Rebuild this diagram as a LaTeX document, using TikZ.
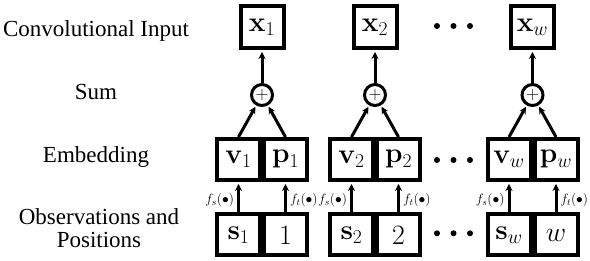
\RequirePackage{fix-cm}
\documentclass[tikz,border=0pt]{standalone}
\usepackage[no-math]{fontspec}
\setmainfont{Liberation Serif}
\usetikzlibrary{arrows.meta}
\begin{document}
\begin{tikzpicture}[x=1pt,y=1pt,
  box/.style={draw,line width=4pt,minimum width=43pt,minimum height=41pt,inner sep=0pt,font=\fontsize{28}{32}\selectfont},
  sumc/.style={draw,circle,line width=3pt,minimum size=21pt,inner sep=0pt,font=\fontsize{18}{20}\selectfont},
  arr/.style={line width=3pt,-{Stealth[length=7pt,width=7pt]}},
  lab/.style={anchor=base,font=\fontsize{23}{26}\selectfont},
  fl/.style={font=\fontsize{13.5}{16}\selectfont,inner sep=0pt}]
\useasboundingbox (0,0) rectangle (590,261);
% row labels
\node[lab] (l1) at (96,224) {Convolutional Input};
\node[lab] (l2) at (96,161) {Sum};
\node[lab] (l3) at (96,98.7) {Embedding};
\node[lab] (l4) at (99,36) {Observations and};
\node[lab] (l5) at (99,13.7) {Positions};
% columns
\foreach \c/\i/\n in {262/1/1, 375/2/2, 532.5/w/w}{
  \node[box,minimum height=42pt] (x\n) at (\c,234) {$\mathbf{x}_\i$};
  \node[sumc] (s\n) at (\c,166) {$+$};
  \node[box,anchor=east] (v\n) at (\c,101.5) {$\mathbf{v}_\i$};
  \node[box,anchor=west] (p\n) at (\c,101.5) {$\mathbf{p}_\i$};
  \node[box,anchor=east] (o\n) at (\c,26) {$\mathbf{s}_\i$};
  \node[box,anchor=west] (q\n) at (\c,26) {$\i$};
  \draw[arr,shorten >=2pt] (o\n.north) -- (v\n.south) node[pos=0.4,left=3pt,fl]{$f_s(\bullet)$};
  \draw[arr,shorten >=2pt] (q\n.north) -- (p\n.south) node[pos=0.4,right=3pt,fl]{$f_t(\bullet)$};
  \draw[arr,shorten >=1.5pt] (v\n.north) -- (s\n);
  \draw[arr,shorten >=1.5pt] (p\n.north) -- (s\n);
  \draw[arr,shorten >=2pt] (s\n) -- (x\n);
}
% ellipses
\foreach \y in {235,101,27.7}{
  \foreach \x in {437,453.5,470}{
    \fill (\x,\y) circle (3pt);
  }
}
\end{tikzpicture}
\end{document}
